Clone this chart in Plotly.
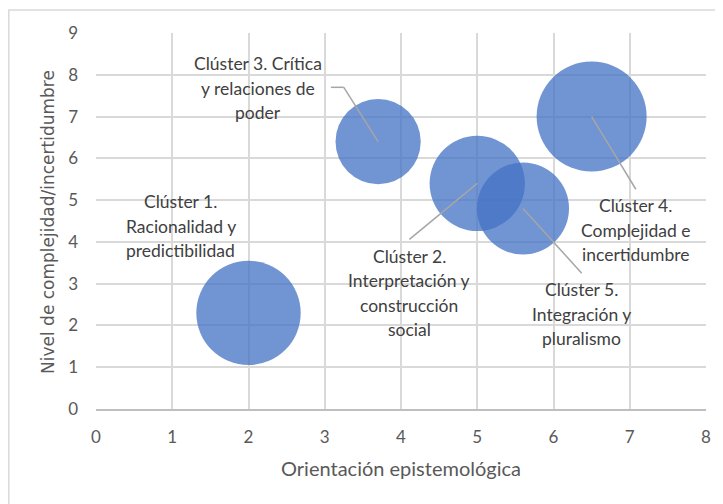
import plotly.graph_objects as go

# ---- data ----
cluster_names = ["Clúster 1", "Clúster 2", "Clúster 3", "Clúster 4", "Clúster 5"]
orientacion = [2.0, 5.0, 3.7, 6.5, 5.6]
complejidad = [2.3, 5.4, 6.4, 7.0, 4.8]
bubble_size = [9, 7.5, 6, 10, 7]
label_lines = [
    ["Clúster 1.", "Racionalidad y", "predictibilidad"],
    ["Clúster 2.", "Interpretación y", "construcción", "social"],
    ["Clúster 3. Crítica", "y relaciones de", "poder"],
    ["Clúster 4.", "Complejidad e", "incertidumbre"],
    ["Clúster 5.", "Integración y", "pluralismo"],
]
x_ticks = [0, 1, 2, 3, 4, 5, 6, 7, 8]
y_ticks = [0, 1, 2, 3, 4, 5, 6, 7, 8, 9]
x_title = "Orientación epistemológica"
y_title = "Nivel de complejidad/incertidumbre"

# label anchor positions (data coords) and leader-line end points
label_pos = [(1.11, 4.38), (4.11, 2.78), (2.12, 7.68), (7.08, 4.28), (6.37, 2.27)]
leader_end = [None, (4.11, 4.06), (3.25, 7.70), (7.08, 5.26), (6.37, 3.25)]

# The page body has an 8px margin, so the figure is sized/positioned to compensate.
OFF = 8
W, H = 723 - OFF, 504 - OFF
L, R, T, B = 96 - OFF, 17, 33 - OFF, 95
MAX_DIAM = 110

fig = go.Figure()
fig.add_trace(go.Scatter(
    x=orientacion, y=complejidad, mode="markers",
    marker=dict(
        size=bubble_size, sizemode="area",
        sizeref=2 * max(bubble_size) / MAX_DIAM ** 2,
        color="#4472C4", opacity=0.76, line=dict(width=0),
    ),
    hovertext=cluster_names, showlegend=False,
))

shapes = []
LEADER = dict(color="#a6a6a6", width=1.5)
for i, end in enumerate(leader_end):
    if end is None:
        continue
    shapes.append(dict(type="line", xref="x", yref="y", x0=orientacion[i], y0=complejidad[i],
                       x1=end[0], y1=end[1], line=LEADER, layer="above"))
# elbow of cluster 3 leader
shapes.append(dict(type="line", xref="x", yref="y", x0=leader_end[2][0], y0=leader_end[2][1],
                   x1=3.08, y1=leader_end[2][1], line=LEADER, layer="above"))

# outer chart border (screen px -> paper coords)
pw, ph = W - L - R, H - T - B
def px_x(sx):
    return (sx - OFF - L) / pw
def px_y(sy):
    return (H - B - (sy - OFF)) / ph
shapes.append(dict(type="rect", xref="paper", yref="paper",
                   x0=px_x(8.8), x1=px_x(730),
                   y0=px_y(515), y1=px_y(10),
                   line=dict(color="#d9d9d9", width=1.5), fillcolor="rgba(0,0,0,0)", layer="below"))

annotations = []
LINE_GAP = 24.3
for (lx, ly), lines in zip(label_pos, label_lines):
    n = len(lines)
    for j, t in enumerate(lines):
        annotations.append(dict(
            x=lx, y=ly, xref="x", yref="y", text=t, showarrow=False,
            xanchor="center", yanchor="middle",
            yshift=-(j - (n - 1) / 2) * LINE_GAP,
            font=dict(family="Lato", size=17.5, color="#404040"),
        ))
annotations.append(dict(
    x=0.5, y=px_y(468), xref="paper", yref="paper", text=x_title, showarrow=False,
    xanchor="center", yanchor="middle", font=dict(family="Lato", size=20, color="#595959"),
))
annotations.append(dict(
    x=px_x(48), y=px_y(222), xref="paper", yref="paper", text=y_title, showarrow=False,
    textangle=-90, xanchor="center", yanchor="middle",
    font=dict(family="DejaVu Sans", size=17, color="#595959"),
))

fig.update_layout(
    width=W, height=H,
    margin=dict(l=L, r=R, t=T, b=B, pad=0),
    paper_bgcolor="white", plot_bgcolor="white",
    shapes=shapes, annotations=annotations,
    xaxis=dict(range=[0, 8], tickvals=x_ticks, showgrid=True, gridcolor="#d9d9d9", gridwidth=1.5,
               zeroline=False, showline=True, linecolor="#bfbfbf", linewidth=1.5,
               ticks="", ticklabelstandoff=12, fixedrange=True,
               tickfont=dict(family="Lato", size=17, color="#595959")),
    yaxis=dict(range=[0, 9], tickvals=y_ticks, showgrid=True, gridcolor="#d9d9d9", gridwidth=1.5,
               zeroline=False, showline=False,
               ticks="", ticklabelstandoff=17, fixedrange=True,
               tickfont=dict(family="Lato", size=17, color="#595959")),
)

fig.write_html("out.html")
